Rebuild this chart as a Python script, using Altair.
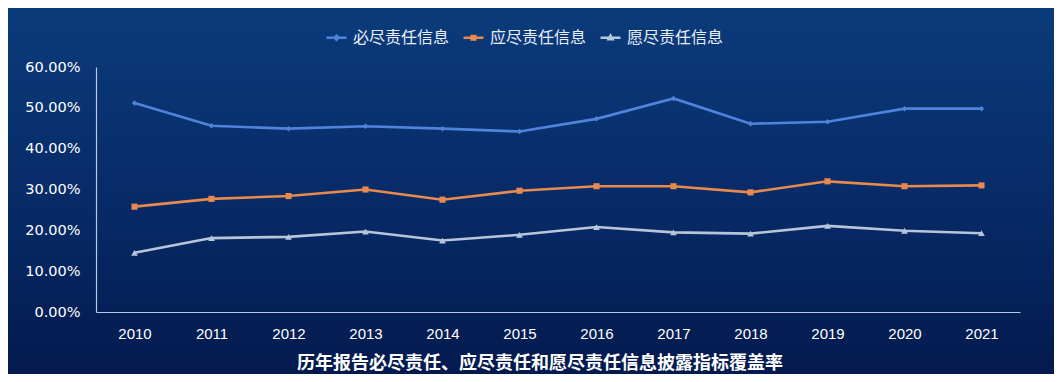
import altair as alt
import pandas as pd

years = [str(y) for y in range(2010, 2022)]
series_names = ["必尽责任信息", "应尽责任信息", "愿尽责任信息"]
must = [0.512, 0.456, 0.449, 0.455, 0.449, 0.442, 0.473, 0.523, 0.461, 0.466, 0.498, 0.498]
should = [0.258, 0.277, 0.284, 0.300, 0.275, 0.297, 0.308, 0.308, 0.293, 0.320, 0.308, 0.310]
willing = [0.145, 0.181, 0.184, 0.197, 0.175, 0.189, 0.208, 0.195, 0.192, 0.211, 0.199, 0.193]
colors = ["#4f84da", "#e8894d", "#b8c6da"]
title_text = "历年报告必尽责任、应尽责任和愿尽责任信息披露指标覆盖率"

rows = []
for name, vals in zip(series_names, [must, should, willing]):
    for y, v in zip(years, vals):
        rows.append({"year": y, "series": name, "value": v})
df = pd.DataFrame(rows)

W, H = 924, 245
PL, PT, PR, PB = 88, 59, 34, 62

cjk = "Noto Sans CJK SC"

x_enc = alt.X("year:O", scale=alt.Scale(type="point", padding=0.5),
              axis=alt.Axis(title=None, labelAngle=0, ticks=False, domainColor="#b7c9e6",
                            domainWidth=1.2, labelColor="#ffffff", labelFontSize=15,
                            labelFont="Liberation Sans", labelPadding=14, grid=False,
                            zindex=1))
y_enc = alt.Y("value:Q", scale=alt.Scale(domain=[0, 0.6], nice=False),
              axis=alt.Axis(title=None, format=".2%", values=[0, 0.1, 0.2, 0.3, 0.4, 0.5, 0.6],
                            ticks=False, domainColor="#b7c9e6", domainWidth=1.2,
                            labelColor="#ffffff", labelFontSize=14.5, labelFont="DejaVu Sans",
                            labelPadding=16, grid=False, zindex=1))

color_scale = alt.Scale(domain=series_names, range=colors)

bg = alt.Chart(pd.DataFrame({"a": [0]})).mark_rect(
    fill=alt.LinearGradient(gradient="linear", x1=0, x2=0, y1=0, y2=1,
                            stops=[alt.GradientStop(color="#0b3b7b", offset=0),
                                   alt.GradientStop(color="#072a66", offset=0.55),
                                   alt.GradientStop(color="#041a4e", offset=1)])
).encode(x=alt.value(-PL), x2=alt.value(W + PR), y=alt.value(-PT), y2=alt.value(H + PB))

base = alt.Chart(df)

lines = base.mark_line(strokeWidth=2.6).encode(
    x=x_enc, y=y_enc,
    color=alt.Color("series:N", scale=color_scale, legend=None),
    detail="series:N",
)

points = base.mark_point(filled=True, opacity=1).encode(
    x=x_enc, y=y_enc,
    color=alt.Color("series:N", scale=color_scale, legend=None),
    shape=alt.Shape("series:N", scale=alt.Scale(domain=series_names,
                                                range=["diamond", "square", "triangle-up"]),
                    legend=None),
    size=alt.Size("series:N", scale=alt.Scale(domain=series_names, range=[30, 45, 35]),
                  legend=None),
)

leg = alt.Legend(title=None, orient="none", direction="horizontal", legendX=229, legendY=-41,
                 labelColor="#e8eef8", labelFont=cjk, labelFontSize=16, symbolSize=400,
                 symbolStrokeWidth=2.5, labelOffset=5, columnPadding=8)

legend_layer = base.mark_point(filled=False, opacity=0, strokeWidth=2.5).encode(
    x=x_enc, y=y_enc,
    color=alt.Color("series:N", scale=color_scale, legend=leg),
    shape=alt.Shape("series:N", scale=alt.Scale(
        domain=series_names,
        range=["M-1,0H1M0,-0.2L0.2,0L0,0.2L-0.2,0Z",
               "M-1,0H1M-0.18,-0.18H0.18V0.18H-0.18Z",
               "M-1,0H1M0,-0.22L0.2,0.15L-0.2,0.15Z"]), legend=leg),
)

chart = alt.layer(bg, lines, points, legend_layer).resolve_scale(
    color="independent", shape="independent"
).properties(
    width=W, height=H,
    padding={"left": PL, "top": PT, "right": PR, "bottom": PB},
    autosize=alt.AutoSizeParams(type="none"),
    background="#072a66",
    title=alt.Title(title_text, orient="bottom", font=cjk, fontSize=18, fontWeight="bold",
                    color="#ffffff", offset=-19, dx=-18, anchor="middle"),
).configure_view(stroke=None)

chart.save("out.html", embed_options={"renderer": "svg", "actions": False})
